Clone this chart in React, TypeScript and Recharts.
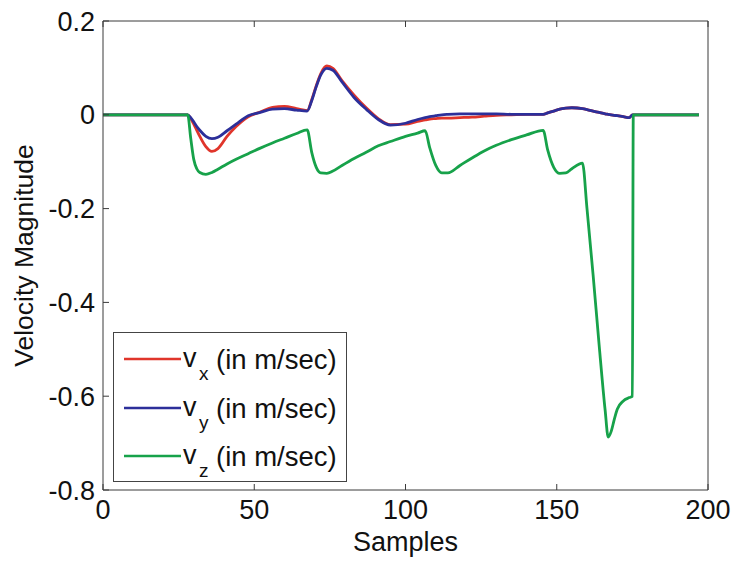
import React from "react";
import { LineChart, Line, XAxis, YAxis } from "recharts";

const samples = [0, 28, 29, 30, 31, 32, 34, 36, 38, 41, 44, 48, 52, 56, 60, 64, 67.5, 69, 70.5, 72, 74, 76, 79, 83, 87, 91, 95, 100, 104, 106.5, 108, 110, 112, 114, 118, 122, 126, 130, 135, 140, 145.5, 147, 149, 151, 153, 155, 158.5, 160, 162, 164, 166, 167, 168, 169, 170, 172, 174, 175, 175.3, 197];

const vx = [0, 0, -0.008, -0.02, -0.033, -0.046, -0.068, -0.078, -0.072, -0.046, -0.025, -0.004, 0.006, 0.016, 0.018, 0.013, 0.009, 0.032, 0.062, 0.088, 0.104, 0.099, 0.073, 0.042, 0.015, -0.008, -0.021, -0.02, -0.014, -0.011, -0.009, -0.008, -0.007, -0.007, -0.006, -0.005, -0.003, -0.001, 0, 0.001, 0.001, 0.004, 0.008, 0.012, 0.014, 0.015, 0.013, 0.011, 0.008, 0.005, 0.002, 0.001, 0, -0.001, -0.002, -0.004, -0.006, 0, 0, 0];

const vy = [0, 0, -0.006, -0.015, -0.025, -0.033, -0.046, -0.051, -0.048, -0.034, -0.02, -0.002, 0.005, 0.012, 0.013, 0.01, 0.008, 0.03, 0.06, 0.085, 0.099, 0.095, 0.07, 0.037, 0.012, -0.01, -0.022, -0.018, -0.01, -0.006, -0.004, -0.002, 0, 0.001, 0.002, 0.002, 0.002, 0.002, 0.001, 0.001, 0.001, 0.004, 0.008, 0.012, 0.014, 0.015, 0.013, 0.011, 0.008, 0.005, 0.002, 0.001, 0, -0.001, -0.002, -0.004, -0.006, 0, 0, 0];

const vz = [0, 0, -0.05, -0.095, -0.115, -0.123, -0.127, -0.123, -0.116, -0.105, -0.095, -0.083, -0.071, -0.06, -0.05, -0.04, -0.032, -0.08, -0.112, -0.124, -0.125, -0.12, -0.108, -0.093, -0.08, -0.066, -0.057, -0.046, -0.039, -0.034, -0.07, -0.108, -0.124, -0.124, -0.108, -0.092, -0.077, -0.065, -0.053, -0.043, -0.033, -0.075, -0.112, -0.125, -0.124, -0.115, -0.103, -0.2, -0.34, -0.49, -0.63, -0.687, -0.675, -0.65, -0.628, -0.61, -0.603, -0.6, 0, 0];

const xTicks = [0, 50, 100, 150, 200];
const yTicks = [0.2, 0, -0.2, -0.4, -0.6, -0.8];

const seriesNames = ["x", "y", "z"];
const seriesKeys = ["vx", "vy", "vz"];
const seriesColors = ["#e0352b", "#2c2f9a", "#17a24a"];

const data = samples.map((s, i) => ({ sample: s, vx: vx[i], vy: vy[i], vz: vz[i] }));

const FONT = "'Liberation Sans', Arial, Helvetica, sans-serif";
const AXIS = "#3a3a3a";
const TICK_LEN = 6;

const LeftTick = (props: any) => {
  const { x, y, payload } = props;
  const ax = x + 8;
  return (
    <g>
      <line x1={ax} x2={ax + TICK_LEN} y1={y} y2={y} stroke={AXIS} strokeWidth={1} />
      <text x={x} y={y} dy="0.355em" textAnchor="end" fontFamily={FONT} fontSize={27} fill="#111">
        {String(payload.value)}
      </text>
    </g>
  );
};

const BottomTick = (props: any) => {
  const { x, y, payload } = props;
  const ay = y - 10;
  return (
    <g>
      <line x1={x} x2={x} y1={ay} y2={ay - TICK_LEN} stroke={AXIS} strokeWidth={1} />
      <text x={x} y={y} dy="0.71em" textAnchor="middle" fontFamily={FONT} fontSize={27} fill="#111">
        {String(payload.value)}
      </text>
    </g>
  );
};

const RightTick = (props: any) => {
  const { x, y } = props;
  return <line x1={x} x2={x - TICK_LEN} y1={y} y2={y} stroke={AXIS} strokeWidth={1} />;
};

const TopTick = (props: any) => {
  const { x, y } = props;
  return <line x1={x} x2={x} y1={y} y2={y + TICK_LEN} stroke={AXIS} strokeWidth={1} />;
};

const YLabel = (props: any) => {
  const vb = props.viewBox || { x: 0, y: 0, width: 0, height: 0 };
  const cx = vb.x + 24;
  const cy = vb.y + vb.height / 2;
  return (
    <text
      x={cx}
      y={cy}
      dy="0.355em"
      textAnchor="middle"
      transform={`rotate(-90 ${cx} ${cy})`}
      fontFamily={FONT}
      fontSize={26.5}
      fill="#111"
    >
      Velocity Magnitude
    </text>
  );
};

const XLabel = (props: any) => {
  const vb = props.viewBox || { x: 0, y: 0, width: 0, height: 0 };
  const cx = vb.x + vb.width / 2;
  return (
    <text x={cx} y={vb.y + 42} dy="0.71em" textAnchor="middle" fontFamily={FONT} fontSize={27} fill="#111">
      Samples
    </text>
  );
};

const LegendBox = () => (
  <div
    style={{
      position: "absolute",
      left: 113,
      top: 332,
      width: 234,
      height: 150,
      border: "1px solid #444",
      background: "#fff",
      boxSizing: "border-box",
      fontFamily: FONT,
      color: "#111",
    }}
  >
    {seriesNames.map((n, i) => (
      <div
        key={n}
        style={{ position: "absolute", left: 0, top: 26 + i * 48.5 - 20, height: 40, width: 233 }}
      >
        <svg width={233} height={40} style={{ position: "absolute", left: 0, top: 0, overflow: "visible" }}>
          <line x1={10} x2={67} y1={20} y2={20} stroke={seriesColors[i]} strokeWidth={2.5} />
          <text x={69} y={20} dy="0.3em" fontFamily={FONT} fontSize={27} fill="#111">
            v
          </text>
          <text x={85} y={35} dy="0.3em" fontFamily={FONT} fontSize={19} fill="#111">
            {n}
          </text>
          <text x={102} y={20} dy="0.355em" fontFamily={FONT} fontSize={27.5} fill="#111">
            (in m/sec)
          </text>
        </svg>
      </div>
    ))}
  </div>
);

export default function App() {
  return (
    <div style={{ position: "absolute", left: 0, top: 0, width: 733, height: 564, background: "#fff" }}>
      <LineChart width={733} height={564} data={data} margin={{ top: 0, right: 0, bottom: 0, left: 0 }}>
        <XAxis
          xAxisId="b"
          dataKey="sample"
          type="number"
          domain={[0, 200]}
          ticks={xTicks}
          interval={0}
          height={74}
          tickSize={0}
          tickMargin={10}
          tickLine={false}
          stroke={AXIS}
          tick={<BottomTick />}
          label={<XLabel />}
        />
        <XAxis
          xAxisId="t"
          orientation="top"
          dataKey="sample"
          type="number"
          domain={[0, 200]}
          ticks={xTicks}
          interval={0}
          height={21}
          tickSize={0}
          tickMargin={0}
          tickLine={false}
          stroke={AXIS}
          tick={<TopTick />}
        />
        <YAxis
          yAxisId="l"
          type="number"
          domain={[-0.8, 0.2]}
          ticks={yTicks}
          interval={0}
          width={103}
          tickSize={0}
          tickMargin={8}
          tickLine={false}
          stroke={AXIS}
          tick={<LeftTick />}
          label={<YLabel />}
        />
        <YAxis
          yAxisId="r"
          orientation="right"
          type="number"
          domain={[-0.8, 0.2]}
          ticks={yTicks}
          interval={0}
          width={25}
          tickSize={0}
          tickMargin={0}
          tickLine={false}
          stroke={AXIS}
          tick={<RightTick />}
        />
        {seriesKeys.map((k, i) => (
          <Line
            key={k}
            xAxisId="b"
            yAxisId="l"
            dataKey={k}
            type="monotone"
            stroke={seriesColors[i]}
            strokeWidth={2.8}
            dot={false}
            activeDot={false}
            isAnimationActive={false}
          />
        ))}
      </LineChart>
      <LegendBox />
    </div>
  );
}
